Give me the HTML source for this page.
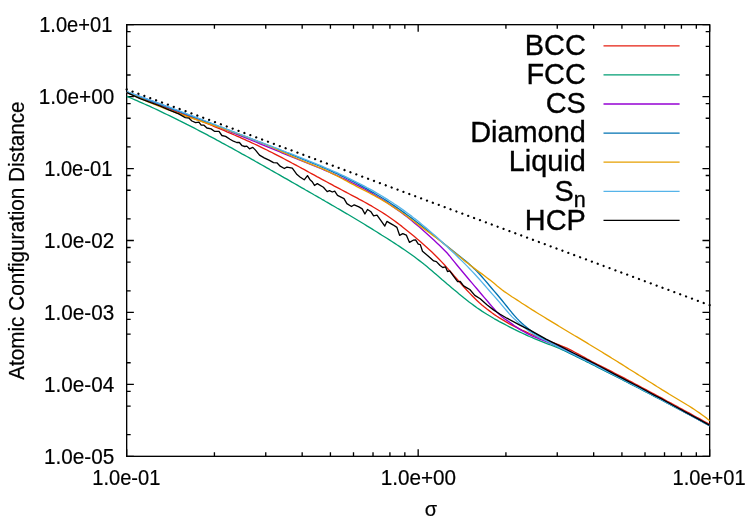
<!DOCTYPE html>
<html><head><meta charset="utf-8"><title>plot</title>
<style>html,body{margin:0;padding:0;background:#fff}svg{display:block;will-change:transform}text{font-family:"Liberation Sans",sans-serif;fill:#000}</style></head>
<body>
<svg width="747" height="523" viewBox="0 0 747 523">
<rect x="0" y="0" width="747" height="523" fill="#ffffff"/>
<path d="M126.67,24.67h7.20M709.67,24.67h-7.20M126.67,31.64h4.00M709.67,31.64h-4.00M126.67,46.33h4.00M709.67,46.33h-4.00M126.67,74.96h4.00M709.67,74.96h-4.00M126.67,96.61h7.20M709.67,96.61h-7.20M126.67,103.59h4.00M709.67,103.59h-4.00M126.67,118.27h4.00M709.67,118.27h-4.00M126.67,146.90h4.00M709.67,146.90h-4.00M126.67,168.56h7.20M709.67,168.56h-7.20M126.67,175.53h4.00M709.67,175.53h-4.00M126.67,190.21h4.00M709.67,190.21h-4.00M126.67,218.84h4.00M709.67,218.84h-4.00M126.67,240.50h7.20M709.67,240.50h-7.20M126.67,247.47h4.00M709.67,247.47h-4.00M126.67,262.16h4.00M709.67,262.16h-4.00M126.67,290.79h4.00M709.67,290.79h-4.00M126.67,312.44h7.20M709.67,312.44h-7.20M126.67,319.42h4.00M709.67,319.42h-4.00M126.67,334.10h4.00M709.67,334.10h-4.00M126.67,362.73h4.00M709.67,362.73h-4.00M126.67,384.39h7.20M709.67,384.39h-7.20M126.67,391.36h4.00M709.67,391.36h-4.00M126.67,406.04h4.00M709.67,406.04h-4.00M126.67,434.67h4.00M709.67,434.67h-4.00M126.67,456.33h7.20M709.67,456.33h-7.20M126.67,456.33v-7.20M126.67,24.67v7.20M214.42,456.33v-4.00M214.42,24.67v4.00M265.75,456.33v-4.00M265.75,24.67v4.00M302.17,456.33v-4.00M302.17,24.67v4.00M330.42,456.33v-4.00M330.42,24.67v4.00M353.50,456.33v-4.00M353.50,24.67v4.00M373.02,456.33v-4.00M373.02,24.67v4.00M389.92,456.33v-4.00M389.92,24.67v4.00M404.83,456.33v-4.00M404.83,24.67v4.00M418.17,456.33v-7.20M418.17,24.67v7.20M505.92,456.33v-4.00M505.92,24.67v4.00M557.25,456.33v-4.00M557.25,24.67v4.00M593.67,456.33v-4.00M593.67,24.67v4.00M621.92,456.33v-4.00M621.92,24.67v4.00M645.00,456.33v-4.00M645.00,24.67v4.00M664.52,456.33v-4.00M664.52,24.67v4.00M681.42,456.33v-4.00M681.42,24.67v4.00M696.33,456.33v-4.00M696.33,24.67v4.00M709.67,456.33v-7.20M709.67,24.67v7.20" stroke="#000" stroke-width="1.33" fill="none"/>
<text transform="translate(112.30,32.27) scale(1,1.050)" font-size="20.7" textLength="73.13" lengthAdjust="spacingAndGlyphs" text-anchor="end" stroke="#000" stroke-width="0.20">1.0e+01</text>
<text transform="translate(114.20,104.21) scale(1,1.050)" font-size="20.7" text-anchor="end" stroke="#000" stroke-width="0.20">1.0e+00</text>
<text transform="translate(112.30,176.16) scale(1,1.050)" font-size="20.7" textLength="68.09" lengthAdjust="spacingAndGlyphs" text-anchor="end" stroke="#000" stroke-width="0.20">1.0e-01</text>
<text transform="translate(114.20,248.10) scale(1,1.050)" font-size="20.7" text-anchor="end" stroke="#000" stroke-width="0.20">1.0e-02</text>
<text transform="translate(114.20,320.04) scale(1,1.050)" font-size="20.7" text-anchor="end" stroke="#000" stroke-width="0.20">1.0e-03</text>
<text transform="translate(114.20,391.99) scale(1,1.050)" font-size="20.7" text-anchor="end" stroke="#000" stroke-width="0.20">1.0e-04</text>
<text transform="translate(114.20,463.93) scale(1,1.050)" font-size="20.7" text-anchor="end" stroke="#000" stroke-width="0.20">1.0e-05</text>
<text transform="translate(126.27,484.60) scale(1,1.050)" font-size="20.7" textLength="68.09" lengthAdjust="spacingAndGlyphs" text-anchor="middle" stroke="#000" stroke-width="0.20">1.0e-01</text>
<text transform="translate(418.37,484.60) scale(1,1.050)" font-size="20.7" text-anchor="middle" stroke="#000" stroke-width="0.20">1.0e+00</text>
<text transform="translate(709.07,484.60) scale(1,1.050)" font-size="20.7" textLength="73.13" lengthAdjust="spacingAndGlyphs" text-anchor="middle" stroke="#000" stroke-width="0.20">1.0e+01</text>
<text x="431" y="515.5" font-size="20" text-anchor="middle" stroke="#000" stroke-width="0.2">σ</text>
<text transform="translate(23.8,240.6) rotate(-90) scale(1,1.06)" font-size="20.7" text-anchor="middle" stroke="#000" stroke-width="0.2">Atomic Configuration Distance</text>
<rect x="126.67" y="24.67" width="583.00" height="431.66" fill="none" stroke="#000" stroke-width="1.33"/>
<g fill="none" stroke-linejoin="round" stroke-linecap="butt" stroke-width="1.33">
<polyline points="126.9,92.5 129.4,93.5 131.9,94.4 134.4,95.4 136.9,96.4 139.4,97.4 141.9,98.3 144.4,99.3 146.9,100.3 149.4,101.2 151.9,102.2 154.4,103.1 156.9,104.1 159.4,105.1 161.9,106.0 164.4,107.0 166.9,107.9 169.4,108.9 171.9,109.8 174.4,110.8 176.9,111.8 179.4,112.7 181.9,113.7 184.4,114.7 186.9,115.6 189.4,116.6 191.9,117.6 194.4,118.6 196.9,119.5 199.4,120.5 201.9,121.5 204.4,122.5 206.9,123.5 209.4,124.5 211.9,125.5 214.4,126.6 216.9,127.6 219.4,128.6 221.9,129.7 224.4,130.7 226.9,131.8 229.4,132.8 231.9,133.9 234.4,135.0 236.9,136.1 239.4,137.2 241.9,138.3 244.4,139.4 246.9,140.6 249.4,141.7 251.9,142.9 254.4,144.0 256.9,145.2 259.4,146.4 261.9,147.6 264.4,148.8 266.9,150.0 269.4,151.3 271.9,152.5 274.4,153.8 276.9,155.1 279.4,156.4 281.9,157.7 284.4,159.0 286.9,160.3 289.4,161.6 291.9,163.0 294.4,164.3 296.9,165.7 299.4,167.0 301.9,168.4 304.4,169.7 306.9,171.1 309.4,172.5 311.9,173.8 314.4,175.2 316.9,176.6 319.4,177.9 321.9,179.3 324.4,180.7 326.9,182.0 329.4,183.4 331.9,184.7 334.4,186.1 336.9,187.4 339.4,188.7 341.9,190.0 344.4,191.3 346.9,192.7 349.4,194.0 351.9,195.3 354.4,196.6 356.9,197.9 359.4,199.3 361.9,200.6 364.4,202.0 366.9,203.4 369.4,204.8 371.9,206.2 374.4,207.7 376.9,209.2 379.4,210.7 381.9,212.3 384.4,213.9 386.9,215.5 389.4,217.2 391.9,219.0 394.4,220.8 396.9,222.6 399.4,224.5 401.9,226.4 404.4,228.4 406.9,230.4 409.4,232.4 411.9,234.5 414.4,236.6 416.9,238.7 419.4,240.8 421.9,243.0 424.4,245.2 426.9,247.5 429.4,249.8 431.9,252.1 434.4,254.5 436.9,257.0 439.4,259.5 441.9,262.1 444.4,264.8 446.9,267.6 449.4,270.4 451.9,273.3 454.4,276.1 456.9,279.0 459.4,281.9 461.9,284.7 464.4,287.5 466.9,290.3 469.4,292.9 471.9,295.5 474.4,298.0 476.9,300.4 479.4,302.7 481.9,304.9 484.4,307.0 486.9,309.0 489.4,310.9 491.9,312.8 494.4,314.6 496.9,316.3 499.4,317.9 501.9,319.4 504.4,320.9 506.9,322.4 509.4,323.8 511.9,325.1 514.4,326.4 516.9,327.7 519.4,328.9 521.9,330.1 524.4,331.2 526.9,332.3 529.4,333.5 531.9,334.5 534.4,335.6 536.9,336.6 539.4,337.6 541.9,338.6 544.4,339.6 546.9,340.5 549.4,341.4 551.9,342.3 554.4,343.2 556.9,344.1 559.4,345.0 561.9,346.0 564.4,347.1 566.9,348.2 569.4,349.4 571.9,350.7 574.4,352.0 576.9,353.3 579.4,354.7 581.9,356.0 584.4,357.4 586.9,358.8 589.4,360.1 591.9,361.5 594.4,362.8 596.9,364.1 599.4,365.3 601.9,366.6 604.4,367.9 606.9,369.2 609.4,370.4 611.9,371.7 614.4,373.0 616.9,374.3 619.4,375.6 621.9,376.9 624.4,378.2 626.9,379.5 629.4,380.9 631.9,382.2 634.4,383.5 636.9,384.8 639.4,386.2 641.9,387.5 644.4,388.8 646.9,390.2 649.4,391.5 651.9,392.9 654.4,394.2 656.9,395.5 659.4,396.9 661.9,398.2 664.4,399.6 666.9,401.0 669.4,402.3 671.9,403.7 674.4,405.0 676.9,406.4 679.4,407.8 681.9,409.1 684.4,410.5 686.9,411.9 689.4,413.2 691.9,414.6 694.4,416.0 696.9,417.4 699.4,418.7 701.9,420.1 704.4,421.5 706.9,422.9 709.4,424.3 709.7,424.4" stroke="#e51e10"/>
<polyline points="126.9,96.4 129.4,97.4 131.9,98.5 134.4,99.6 136.9,100.7 139.4,101.8 141.9,102.9 144.4,104.0 146.9,105.1 149.4,106.2 151.9,107.4 154.4,108.5 156.9,109.7 159.4,110.9 161.9,112.1 164.4,113.3 166.9,114.5 169.4,115.7 171.9,116.9 174.4,118.1 176.9,119.3 179.4,120.6 181.9,121.8 184.4,123.1 186.9,124.4 189.4,125.6 191.9,126.9 194.4,128.2 196.9,129.5 199.4,130.8 201.9,132.1 204.4,133.4 206.9,134.7 209.4,136.1 211.9,137.4 214.4,138.7 216.9,140.1 219.4,141.4 221.9,142.8 224.4,144.1 226.9,145.5 229.4,146.9 231.9,148.2 234.4,149.6 236.9,151.0 239.4,152.4 241.9,153.8 244.4,155.1 246.9,156.5 249.4,157.9 251.9,159.3 254.4,160.7 256.9,162.2 259.4,163.6 261.9,165.0 264.4,166.4 266.9,167.8 269.4,169.2 271.9,170.7 274.4,172.1 276.9,173.5 279.4,174.9 281.9,176.4 284.4,177.8 286.9,179.2 289.4,180.6 291.9,182.1 294.4,183.5 296.9,184.9 299.4,186.4 301.9,187.8 304.4,189.2 306.9,190.7 309.4,192.1 311.9,193.5 314.4,195.0 316.9,196.4 319.4,197.8 321.9,199.3 324.4,200.7 326.9,202.2 329.4,203.6 331.9,205.1 334.4,206.5 336.9,208.0 339.4,209.4 341.9,210.9 344.4,212.4 346.9,213.8 349.4,215.3 351.9,216.8 354.4,218.3 356.9,219.8 359.4,221.3 361.9,222.8 364.4,224.3 366.9,225.9 369.4,227.4 371.9,228.9 374.4,230.5 376.9,232.0 379.4,233.6 381.9,235.2 384.4,236.7 386.9,238.3 389.4,239.9 391.9,241.5 394.4,243.1 396.9,244.8 399.4,246.4 401.9,248.1 404.4,249.8 406.9,251.5 409.4,253.2 411.9,255.0 414.4,256.8 416.9,258.7 419.4,260.6 421.9,262.5 424.4,264.6 426.9,266.6 429.4,268.7 431.9,270.8 434.4,272.9 436.9,275.1 439.4,277.2 441.9,279.4 444.4,281.5 446.9,283.7 449.4,285.8 451.9,287.9 454.4,290.1 456.9,292.1 459.4,294.2 461.9,296.2 464.4,298.3 466.9,300.2 469.4,302.2 471.9,304.0 474.4,305.9 476.9,307.7 479.4,309.4 481.9,311.1 484.4,312.7 486.9,314.3 489.4,315.8 491.9,317.3 494.4,318.8 496.9,320.2 499.4,321.6 501.9,322.9 504.4,324.2 506.9,325.5 509.4,326.8 511.9,328.1 514.4,329.4 516.9,330.6 519.4,331.8 521.9,333.0 524.4,334.2 526.9,335.3 529.4,336.5 531.9,337.5 534.4,338.6 536.9,339.6 539.4,340.6 541.9,341.6 544.4,342.6 546.9,343.6 549.4,344.5 551.9,345.5 554.4,346.5 556.9,347.5 559.4,348.5 561.9,349.6 564.4,350.7 566.9,351.9 569.4,353.1 571.9,354.3 574.4,355.5 576.9,356.8 579.4,358.0 581.9,359.3 584.4,360.5 586.9,361.8 589.4,363.0 591.9,364.3 594.4,365.5 596.9,366.8 599.4,368.1 601.9,369.3 604.4,370.6 606.9,371.8 609.4,373.1 611.9,374.4 614.4,375.7 616.9,376.9 619.4,378.2 621.9,379.5 624.4,380.8 626.9,382.0 629.4,383.3 631.9,384.6 634.4,385.9 636.9,387.2 639.4,388.5 641.9,389.8 644.4,391.1 646.9,392.4 649.4,393.7 651.9,395.0 654.4,396.3 656.9,397.6 659.4,398.9 661.9,400.2 664.4,401.5 666.9,402.8 669.4,404.1 671.9,405.5 674.4,406.8 676.9,408.1 679.4,409.4 681.9,410.7 684.4,412.1 686.9,413.4 689.4,414.7 691.9,416.1 694.4,417.4 696.9,418.7 699.4,420.1 701.9,421.4 704.4,422.8 706.9,424.1 709.4,425.5 709.7,425.6" stroke="#009e73"/>
<polyline points="126.9,92.0 129.4,92.9 131.9,93.8 134.4,94.6 136.9,95.5 139.4,96.4 141.9,97.3 144.4,98.2 146.9,99.1 149.4,100.1 151.9,101.0 154.4,101.9 156.9,102.8 159.4,103.8 161.9,104.7 164.4,105.6 166.9,106.6 169.4,107.5 171.9,108.5 174.4,109.5 176.9,110.4 179.4,111.4 181.9,112.4 184.4,113.3 186.9,114.3 189.4,115.3 191.9,116.3 194.4,117.3 196.9,118.2 199.4,119.2 201.9,120.2 204.4,121.2 206.9,122.2 209.4,123.2 211.9,124.2 214.4,125.2 216.9,126.2 219.4,127.2 221.9,128.3 224.4,129.3 226.9,130.3 229.4,131.3 231.9,132.3 234.4,133.3 236.9,134.4 239.4,135.4 241.9,136.4 244.4,137.4 246.9,138.4 249.4,139.5 251.9,140.5 254.4,141.5 256.9,142.5 259.4,143.6 261.9,144.6 264.4,145.6 266.9,146.6 269.4,147.7 271.9,148.7 274.4,149.7 276.9,150.7 279.4,151.7 281.9,152.8 284.4,153.8 286.9,154.8 289.4,155.8 291.9,156.8 294.4,157.9 296.9,158.9 299.4,159.9 301.9,160.9 304.4,161.9 306.9,162.9 309.4,163.9 311.9,164.9 314.4,166.0 316.9,167.0 319.4,168.0 321.9,169.0 324.4,170.1 326.9,171.2 329.4,172.2 331.9,173.3 334.4,174.4 336.9,175.5 339.4,176.6 341.9,177.8 344.4,178.9 346.9,180.1 349.4,181.3 351.9,182.6 354.4,183.8 356.9,185.1 359.4,186.4 361.9,187.7 364.4,189.0 366.9,190.4 369.4,191.8 371.9,193.2 374.4,194.7 376.9,196.2 379.4,197.7 381.9,199.3 384.4,200.9 386.9,202.5 389.4,204.2 391.9,205.9 394.4,207.6 396.9,209.4 399.4,211.2 401.9,213.0 404.4,214.9 406.9,216.8 409.4,218.8 411.9,220.8 414.4,222.9 416.9,225.0 419.4,227.1 421.9,229.3 424.4,231.5 426.9,233.7 429.4,236.0 431.9,238.3 434.4,240.6 436.9,242.9 439.4,245.3 441.9,247.7 444.4,250.2 446.9,252.8 449.4,255.7 451.9,258.8 454.4,261.9 456.9,265.0 459.4,268.0 461.9,271.0 464.4,274.0 466.9,277.0 469.4,280.0 471.9,282.9 474.4,285.9 476.9,288.8 479.4,291.7 481.9,294.7 484.4,297.6 486.9,300.5 489.4,303.5 491.9,306.4 494.4,309.3 496.9,312.1 499.4,314.6 501.9,316.8 504.4,318.7 506.9,320.4 509.4,322.1 511.9,323.9 514.4,325.7 516.9,327.4 519.4,329.1 521.9,330.6 524.4,332.0 526.9,333.4 529.4,334.6 531.9,335.8 534.4,336.9 536.9,337.9 539.4,339.0 541.9,339.9 544.4,340.9 546.9,341.9 549.4,342.8 551.9,343.8 554.4,344.8 556.9,345.8 559.4,346.8 561.9,348.0 564.4,349.1 566.9,350.4 569.4,351.6 571.9,352.9 574.4,354.2 576.9,355.5 579.4,356.8 581.9,358.1 584.4,359.4 586.9,360.6 589.4,361.9 591.9,363.2 594.4,364.5 596.9,365.8 599.4,367.0 601.9,368.3 604.4,369.6 606.9,370.9 609.4,372.2 611.9,373.5 614.4,374.7 616.9,376.0 619.4,377.3 621.9,378.6 624.4,379.9 626.9,381.2 629.4,382.5 631.9,383.8 634.4,385.1 636.9,386.4 639.4,387.7 641.9,389.0 644.4,390.3 646.9,391.6 649.4,392.9 651.9,394.3 654.4,395.6 656.9,396.9 659.4,398.3 661.9,399.6 664.4,400.9 666.9,402.3 669.4,403.6 671.9,405.0 674.4,406.3 676.9,407.7 679.4,409.1 681.9,410.4 684.4,411.8 686.9,413.1 689.4,414.5 691.9,415.9 694.4,417.2 696.9,418.6 699.4,419.9 701.9,421.3 704.4,422.7 706.9,424.0 709.4,425.4 709.7,425.5" stroke="#9400d3"/>
<polyline points="126.9,92.0 129.4,92.9 131.9,93.9 134.4,94.8 136.9,95.8 139.4,96.7 141.9,97.6 144.4,98.6 146.9,99.5 149.4,100.4 151.9,101.4 154.4,102.3 156.9,103.2 159.4,104.2 161.9,105.1 164.4,106.0 166.9,107.0 169.4,107.9 171.9,108.8 174.4,109.8 176.9,110.7 179.4,111.7 181.9,112.6 184.4,113.5 186.9,114.5 189.4,115.4 191.9,116.3 194.4,117.3 196.9,118.2 199.4,119.2 201.9,120.1 204.4,121.0 206.9,122.0 209.4,122.9 211.9,123.9 214.4,124.8 216.9,125.8 219.4,126.7 221.9,127.7 224.4,128.6 226.9,129.6 229.4,130.5 231.9,131.5 234.4,132.4 236.9,133.4 239.4,134.3 241.9,135.3 244.4,136.3 246.9,137.2 249.4,138.2 251.9,139.1 254.4,140.1 256.9,141.1 259.4,142.1 261.9,143.0 264.4,144.0 266.9,145.0 269.4,146.0 271.9,146.9 274.4,147.9 276.9,148.9 279.4,149.9 281.9,150.9 284.4,151.9 286.9,152.8 289.4,153.8 291.9,154.8 294.4,155.8 296.9,156.8 299.4,157.8 301.9,158.8 304.4,159.9 306.9,160.9 309.4,161.9 311.9,162.9 314.4,163.9 316.9,165.0 319.4,166.0 321.9,167.1 324.4,168.2 326.9,169.2 329.4,170.3 331.9,171.4 334.4,172.6 336.9,173.7 339.4,174.9 341.9,176.1 344.4,177.2 346.9,178.5 349.4,179.7 351.9,181.0 354.4,182.2 356.9,183.5 359.4,184.8 361.9,186.2 364.4,187.6 366.9,188.9 369.4,190.4 371.9,191.8 374.4,193.2 376.9,194.7 379.4,196.2 381.9,197.8 384.4,199.3 386.9,200.9 389.4,202.5 391.9,204.2 394.4,205.9 396.9,207.6 399.4,209.3 401.9,211.1 404.4,212.9 406.9,214.7 409.4,216.5 411.9,218.4 414.4,220.3 416.9,222.2 419.4,224.1 421.9,226.0 424.4,228.0 426.9,230.0 429.4,231.9 431.9,233.9 434.4,235.9 436.9,237.9 439.4,239.9 441.9,241.9 444.4,243.9 446.9,245.9 449.4,247.9 451.9,249.9 454.4,251.9 456.9,253.9 459.4,255.9 461.9,257.9 464.4,260.0 466.9,262.1 469.4,264.3 471.9,266.6 474.4,268.9 476.9,271.4 479.4,274.0 481.9,276.7 484.4,279.6 486.9,282.5 489.4,285.5 491.9,288.5 494.4,291.4 496.9,294.3 499.4,297.3 501.9,300.3 504.4,303.4 506.9,306.5 509.4,309.6 511.9,312.7 514.4,315.6 516.9,318.4 519.4,320.9 521.9,323.2 524.4,325.4 526.9,327.5 529.4,329.6 531.9,331.6 534.4,333.3 536.9,334.8 539.4,336.3 541.9,337.9 544.4,339.4 546.9,340.8 549.4,342.3 551.9,343.7 554.4,345.1 556.9,346.4 559.4,347.7 561.9,349.0 564.4,350.3 566.9,351.5 569.4,352.8 571.9,354.0 574.4,355.3 576.9,356.5 579.4,357.8 581.9,359.0 584.4,360.2 586.9,361.5 589.4,362.7 591.9,364.0 594.4,365.2 596.9,366.5 599.4,367.8 601.9,369.0 604.4,370.3 606.9,371.6 609.4,372.8 611.9,374.1 614.4,375.4 616.9,376.6 619.4,377.9 621.9,379.2 624.4,380.5 626.9,381.8 629.4,383.1 631.9,384.4 634.4,385.6 636.9,386.9 639.4,388.2 641.9,389.5 644.4,390.8 646.9,392.1 649.4,393.4 651.9,394.8 654.4,396.1 656.9,397.4 659.4,398.7 661.9,400.0 664.4,401.3 666.9,402.7 669.4,404.0 671.9,405.3 674.4,406.6 676.9,408.0 679.4,409.3 681.9,410.6 684.4,412.0 686.9,413.3 689.4,414.7 691.9,416.0 694.4,417.4 696.9,418.7 699.4,420.1 701.9,421.4 704.4,422.8 706.9,424.1 709.4,425.5 709.7,425.6" stroke="#0072b2"/>
<polyline points="126.9,92.0 129.4,93.2 131.9,94.5 134.4,95.7 136.9,96.8 139.4,98.0 141.9,99.1 144.4,100.2 146.9,101.3 149.4,102.3 151.9,103.4 154.4,104.4 156.9,105.4 159.4,106.4 161.9,107.4 164.4,108.3 166.9,109.3 169.4,110.2 171.9,111.1 174.4,112.1 176.9,113.0 179.4,113.8 181.9,114.7 184.4,115.6 186.9,116.5 189.4,117.3 191.9,118.2 194.4,119.0 196.9,119.9 199.4,120.7 201.9,121.5 204.4,122.4 206.9,123.2 209.4,124.0 211.9,124.9 214.4,125.7 216.9,126.6 219.4,127.4 221.9,128.2 224.4,129.1 226.9,130.0 229.4,130.8 231.9,131.7 234.4,132.6 236.9,133.4 239.4,134.3 241.9,135.3 244.4,136.2 246.9,137.1 249.4,138.0 251.9,139.0 254.4,140.0 256.9,141.0 259.4,142.0 261.9,143.0 264.4,144.0 266.9,145.1 269.4,146.1 271.9,147.2 274.4,148.4 276.9,149.5 279.4,150.6 281.9,151.8 284.4,152.9 286.9,154.0 289.4,155.2 291.9,156.3 294.4,157.4 296.9,158.5 299.4,159.5 301.9,160.6 304.4,161.6 306.9,162.6 309.4,163.6 311.9,164.6 314.4,165.5 316.9,166.6 319.4,167.6 321.9,168.6 324.4,169.7 326.9,170.9 329.4,172.1 331.9,173.3 334.4,174.6 336.9,175.8 339.4,177.2 341.9,178.5 344.4,179.9 346.9,181.2 349.4,182.6 351.9,183.9 354.4,185.2 356.9,186.6 359.4,187.9 361.9,189.1 364.4,190.4 366.9,191.7 369.4,193.0 371.9,194.4 374.4,195.7 376.9,197.1 379.4,198.5 381.9,199.9 384.4,201.4 386.9,202.9 389.4,204.5 391.9,206.1 394.4,207.7 396.9,209.4 399.4,211.0 401.9,212.8 404.4,214.5 406.9,216.3 409.4,218.1 411.9,220.0 414.4,221.8 416.9,223.7 419.4,225.6 421.9,227.4 424.4,229.2 426.9,231.0 429.4,232.8 431.9,234.6 434.4,236.5 436.9,238.3 439.4,240.2 441.9,242.2 444.4,244.2 446.9,246.2 449.4,248.3 451.9,250.4 454.4,252.4 456.9,254.5 459.4,256.6 461.9,258.6 464.4,260.7 466.9,262.6 469.4,264.6 471.9,266.5 474.4,268.4 476.9,270.2 479.4,272.1 481.9,273.9 484.4,275.8 486.9,277.7 489.4,279.6 491.9,281.6 494.4,283.6 496.9,285.7 499.4,287.7 501.9,289.7 504.4,291.6 506.9,293.3 509.4,295.0 511.9,296.7 514.4,298.3 516.9,299.9 519.4,301.5 521.9,303.2 524.4,304.8 526.9,306.4 529.4,308.0 531.9,309.6 534.4,311.1 536.9,312.7 539.4,314.3 541.9,315.8 544.4,317.3 546.9,318.9 549.4,320.4 551.9,321.9 554.4,323.4 556.9,324.9 559.4,326.5 561.9,328.0 564.4,329.5 566.9,331.0 569.4,332.5 571.9,334.0 574.4,335.5 576.9,336.9 579.4,338.4 581.9,339.9 584.4,341.4 586.9,342.9 589.4,344.5 591.9,346.0 594.4,347.5 596.9,349.0 599.4,350.5 601.9,352.0 604.4,353.6 606.9,355.1 609.4,356.6 611.9,358.2 614.4,359.7 616.9,361.3 619.4,362.9 621.9,364.4 624.4,366.0 626.9,367.6 629.4,369.2 631.9,370.7 634.4,372.3 636.9,373.9 639.4,375.5 641.9,377.0 644.4,378.6 646.9,380.2 649.4,381.8 651.9,383.3 654.4,384.9 656.9,386.5 659.4,388.0 661.9,389.6 664.4,391.1 666.9,392.6 669.4,394.2 671.9,395.7 674.4,397.2 676.9,398.7 679.4,400.2 681.9,401.7 684.4,403.2 686.9,404.8 689.4,406.3 691.9,407.9 694.4,409.5 696.9,411.2 699.4,412.9 701.9,414.7 704.4,416.5 706.9,418.4 709.4,420.4 709.7,420.6" stroke="#e69f00"/>
<polyline points="126.9,91.7 129.4,92.6 131.9,93.5 134.4,94.4 136.9,95.3 139.4,96.2 141.9,97.1 144.4,98.0 146.9,98.9 149.4,99.8 151.9,100.7 154.4,101.6 156.9,102.6 159.4,103.5 161.9,104.4 164.4,105.3 166.9,106.3 169.4,107.2 171.9,108.1 174.4,109.1 176.9,110.0 179.4,111.0 181.9,111.9 184.4,112.9 186.9,113.8 189.4,114.8 191.9,115.7 194.4,116.7 196.9,117.6 199.4,118.6 201.9,119.5 204.4,120.5 206.9,121.5 209.4,122.4 211.9,123.4 214.4,124.3 216.9,125.3 219.4,126.3 221.9,127.2 224.4,128.2 226.9,129.2 229.4,130.1 231.9,131.1 234.4,132.1 236.9,133.0 239.4,134.0 241.9,135.0 244.4,135.9 246.9,136.9 249.4,137.9 251.9,138.8 254.4,139.8 256.9,140.8 259.4,141.7 261.9,142.7 264.4,143.7 266.9,144.6 269.4,145.6 271.9,146.5 274.4,147.5 276.9,148.4 279.4,149.4 281.9,150.4 284.4,151.3 286.9,152.3 289.4,153.2 291.9,154.2 294.4,155.2 296.9,156.2 299.4,157.1 301.9,158.1 304.4,159.1 306.9,160.1 309.4,161.1 311.9,162.1 314.4,163.1 316.9,164.2 319.4,165.2 321.9,166.2 324.4,167.3 326.9,168.4 329.4,169.4 331.9,170.5 334.4,171.6 336.9,172.7 339.4,173.9 341.9,175.0 344.4,176.2 346.9,177.4 349.4,178.6 351.9,179.8 354.4,181.0 356.9,182.3 359.4,183.5 361.9,184.8 364.4,186.1 366.9,187.5 369.4,188.8 371.9,190.2 374.4,191.6 376.9,193.1 379.4,194.5 381.9,196.0 384.4,197.6 386.9,199.1 389.4,200.7 391.9,202.3 394.4,204.0 396.9,205.6 399.4,207.3 401.9,209.1 404.4,210.9 406.9,212.7 409.4,214.5 411.9,216.4 414.4,218.4 416.9,220.3 419.4,222.3 421.9,224.4 424.4,226.5 426.9,228.6 429.4,230.7 431.9,232.9 434.4,235.1 436.9,237.3 439.4,239.6 441.9,241.9 444.4,244.2 446.9,246.5 449.4,248.9 451.9,251.2 454.4,253.6 456.9,256.0 459.4,258.4 461.9,260.9 464.4,263.4 466.9,265.9 469.4,268.5 471.9,271.1 474.4,273.7 476.9,276.5 479.4,279.3 481.9,282.1 484.4,285.0 486.9,287.9 489.4,290.8 491.9,293.6 494.4,296.4 496.9,299.2 499.4,302.1 501.9,305.1 504.4,308.1 506.9,311.0 509.4,313.9 511.9,316.6 514.4,319.1 516.9,321.3 519.4,323.4 521.9,325.5 524.4,327.5 526.9,329.5 529.4,331.4 531.9,333.0 534.4,334.6 536.9,336.1 539.4,337.4 541.9,338.7 544.4,340.0 546.9,341.2 549.4,342.4 551.9,343.7 554.4,344.9 556.9,346.1 559.4,347.3 561.9,348.6 564.4,349.8 566.9,351.0 569.4,352.3 571.9,353.5 574.4,354.7 576.9,356.0 579.4,357.2 581.9,358.5 584.4,359.7 586.9,361.0 589.4,362.2 591.9,363.5 594.4,364.7 596.9,366.0 599.4,367.3 601.9,368.5 604.4,369.8 606.9,371.1 609.4,372.4 611.9,373.6 614.4,374.9 616.9,376.2 619.4,377.5 621.9,378.8 624.4,380.1 626.9,381.4 629.4,382.7 631.9,384.0 634.4,385.3 636.9,386.6 639.4,388.0 641.9,389.3 644.4,390.6 646.9,391.9 649.4,393.2 651.9,394.6 654.4,395.9 656.9,397.2 659.4,398.6 661.9,399.9 664.4,401.2 666.9,402.6 669.4,403.9 671.9,405.2 674.4,406.6 676.9,407.9 679.4,409.3 681.9,410.6 684.4,412.0 686.9,413.3 689.4,414.7 691.9,416.0 694.4,417.4 696.9,418.7 699.4,420.1 701.9,421.4 704.4,422.8 706.9,424.1 709.4,425.5 709.7,425.6" stroke="#56b4e9"/>
<polyline points="126.9,92.6 140.1,98.7 160.0,106.0 169.4,110.2 178.7,113.9 185.3,117.7 189.1,118.2 191.9,121.0 195.6,122.6 198.9,122.2 201.2,125.2 204.0,125.2 206.9,128.0 211.1,128.9 214.4,131.3 219.0,131.3 221.9,135.5 225.6,136.4 230.0,139.2 233.4,141.2 236.7,142.5 239.4,142.5 242.1,145.7 244.8,146.5 246.8,146.1 249.5,148.8 252.8,147.4 255.5,150.1 259.5,155.1 264.2,157.8 269.5,160.4 273.5,162.6 276.9,162.8 280.2,166.2 284.3,168.5 286.9,167.1 292.3,168.2 297.0,174.6 300.0,177.0 304.2,179.8 307.5,175.6 309.8,179.4 312.2,181.7 314.5,185.5 317.3,183.6 323.4,187.3 327.2,191.6 329.5,190.6 332.3,192.0 334.7,191.1 337.5,195.3 344.0,198.6 346.9,203.6 351.5,206.5 354.2,204.8 358.9,206.9 362.2,208.9 364.9,214.0 367.5,209.5 371.0,211.8 373.6,215.8 377.0,215.2 380.6,220.1 384.8,226.1 386.9,221.4 392.9,224.8 396.9,227.4 399.6,235.3 402.8,233.6 406.3,235.1 409.5,242.4 413.2,240.2 415.6,239.9 418.3,244.2 420.3,244.6 422.5,251.2 428.4,256.2 433.7,260.9 436.4,261.6 440.1,265.5 442.8,267.5 445.5,266.9 447.5,271.5 449.7,270.8 453.5,276.2 457.6,281.6 460.2,281.5 463.6,285.9 466.9,287.8 469.8,289.5 474.8,295.4 480.2,298.8 486.9,304.8 493.5,309.9 500.2,314.2 506.9,318.2 520.3,325.4 530.0,330.2 546.1,339.1 562.1,347.1 573.4,353.0 586.8,359.7 600.2,366.5 613.5,373.6 626.9,380.6 640.3,387.5 653.7,394.8 660.2,398.1 673.5,405.5 686.9,412.8 700.3,420.2 709.7,425.3" stroke="#000000"/>
</g>
<line x1="126.67" y1="89.4" x2="709.67" y2="305.2" stroke="#000" stroke-width="2.3" stroke-linecap="round" stroke-dasharray="0.01 6.269"/>
<line x1="603.5" y1="45.8" x2="679.6" y2="45.8" stroke="#e51e10" stroke-width="1.33"/>
<text transform="translate(585.8,55.00) scale(1,1.05)" font-size="28.9" text-anchor="end" stroke="#000" stroke-width="0.35">BCC</text>
<line x1="603.5" y1="74.9" x2="679.6" y2="74.9" stroke="#009e73" stroke-width="1.33"/>
<text transform="translate(585.8,84.10) scale(1,1.05)" font-size="28.9" text-anchor="end" stroke="#000" stroke-width="0.35">FCC</text>
<line x1="603.5" y1="104.0" x2="679.6" y2="104.0" stroke="#9400d3" stroke-width="1.33"/>
<text transform="translate(585.8,113.20) scale(1,1.05)" font-size="28.9" text-anchor="end" stroke="#000" stroke-width="0.35">CS</text>
<line x1="603.5" y1="133.1" x2="679.6" y2="133.1" stroke="#0072b2" stroke-width="1.33"/>
<text transform="translate(585.8,142.30) scale(1,1.05)" font-size="28.9" text-anchor="end" stroke="#000" stroke-width="0.35">Diamond</text>
<line x1="603.5" y1="162.2" x2="679.6" y2="162.2" stroke="#e69f00" stroke-width="1.33"/>
<text transform="translate(585.8,171.40) scale(1,1.05)" font-size="28.9" text-anchor="end" stroke="#000" stroke-width="0.35">Liquid</text>
<line x1="603.5" y1="191.3" x2="679.6" y2="191.3" stroke="#56b4e9" stroke-width="1.33"/>
<text transform="translate(585.8,200.50) scale(1,1.05)" font-size="28.9" text-anchor="end" stroke="#000" stroke-width="0.35">S<tspan font-size="21.5" dy="6.0">n</tspan></text>
<line x1="603.5" y1="220.4" x2="679.6" y2="220.4" stroke="#000000" stroke-width="1.33"/>
<text transform="translate(585.8,229.60) scale(1,1.05)" font-size="28.9" text-anchor="end" stroke="#000" stroke-width="0.35">HCP</text>
</svg></body></html>
